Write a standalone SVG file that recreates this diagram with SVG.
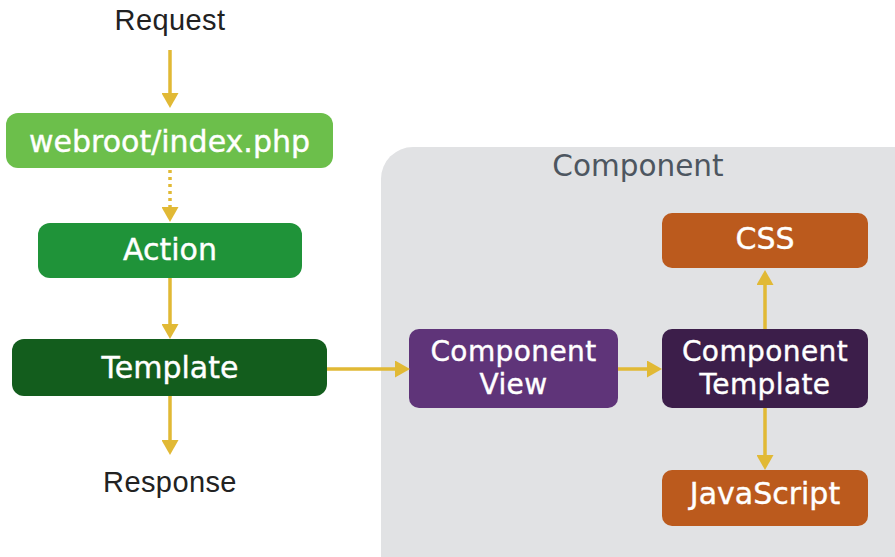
<svg xmlns="http://www.w3.org/2000/svg" width="895" height="557" viewBox="0 0 895 557">
<style>
.plain{font-family:"Liberation Sans",Arial,sans-serif;font-size:29px;fill:#222;text-anchor:middle;letter-spacing:0.4px}
.lbl{font-family:"DejaVu Sans","Open Sans",sans-serif;font-size:30px;fill:#fff;stroke:#fff;stroke-width:0.4;text-anchor:middle}
.lbl2{font-family:"DejaVu Sans","Open Sans",sans-serif;font-size:28px;fill:#fff;stroke:#fff;stroke-width:0.4;text-anchor:middle;letter-spacing:0.4px}
.title{font-family:"DejaVu Sans","Open Sans",sans-serif;font-size:29.5px;fill:#4d5660;text-anchor:middle}
.conn{stroke:#e1b935;stroke-width:3.5;fill:none;marker-end:url(#ah)}
</style>
<defs>
<marker id="ah" markerUnits="userSpaceOnUse" markerWidth="15" markerHeight="17" refX="0" refY="8.5" orient="auto">
<path d="M0,0 L15,8.5 L0,17 z" fill="#e1b935"/>
</marker>
</defs>
<rect width="895" height="557" fill="#fff"/>
<g id="component">
<rect x="381" y="147" width="545" height="440" rx="32" fill="#e1e2e4"/>
<text class="title" x="638" y="176">Component</text>
</g>
<g id="request"><text class="plain" x="170" y="30">Request</text></g>
<g id="response"><text class="plain" x="170" y="492">Response</text></g>
<g id="webroot">
<rect x="6" y="113" width="327" height="55" rx="12" fill="#6cbf4b"/>
<text class="lbl" x="169.5" y="152">webroot/index.php</text>
</g>
<g id="action">
<rect x="38" y="223" width="264" height="55" rx="12" fill="#1f9339"/>
<text class="lbl" x="170" y="260">Action</text>
</g>
<g id="template">
<rect x="12" y="339" width="315" height="57" rx="12" fill="#135d1d"/>
<text class="lbl" x="170" y="378">Template</text>
</g>
<g id="componentView">
<rect x="409" y="329" width="209" height="79" rx="10" fill="#5f3479"/>
<text class="lbl2" x="513.5" y="361">Component</text>
<text class="lbl2" x="513.5" y="394">View</text>
</g>
<g id="componentTemplate">
<rect x="662" y="329" width="206" height="79" rx="10" fill="#3c1e4a"/>
<text class="lbl2" x="765" y="361">Component</text>
<text class="lbl2" x="765" y="394">Template</text>
</g>
<g id="css">
<rect x="662" y="213" width="206" height="55" rx="10" fill="#bb5a1d"/>
<text class="lbl" x="765" y="249">CSS</text>
</g>
<g id="javascript">
<rect x="662" y="470" width="206" height="56" rx="10" fill="#bb5a1d"/>
<text class="lbl" x="765" y="504">JavaScript</text>
</g>
<g id="connectors">
<line class="conn" x1="170" y1="50" x2="170" y2="93"/>
<line class="conn" x1="170" y1="170" x2="170" y2="207" stroke-dasharray="3,4"/>
<line class="conn" x1="170" y1="278" x2="170" y2="324"/>
<line class="conn" x1="170" y1="396" x2="170" y2="440"/>
<line class="conn" x1="327" y1="369" x2="395" y2="369"/>
<line class="conn" x1="618" y1="369" x2="647" y2="369"/>
<line class="conn" x1="765" y1="329" x2="765" y2="285"/>
<line class="conn" x1="765" y1="408" x2="765" y2="455"/>
</g>
</svg>
